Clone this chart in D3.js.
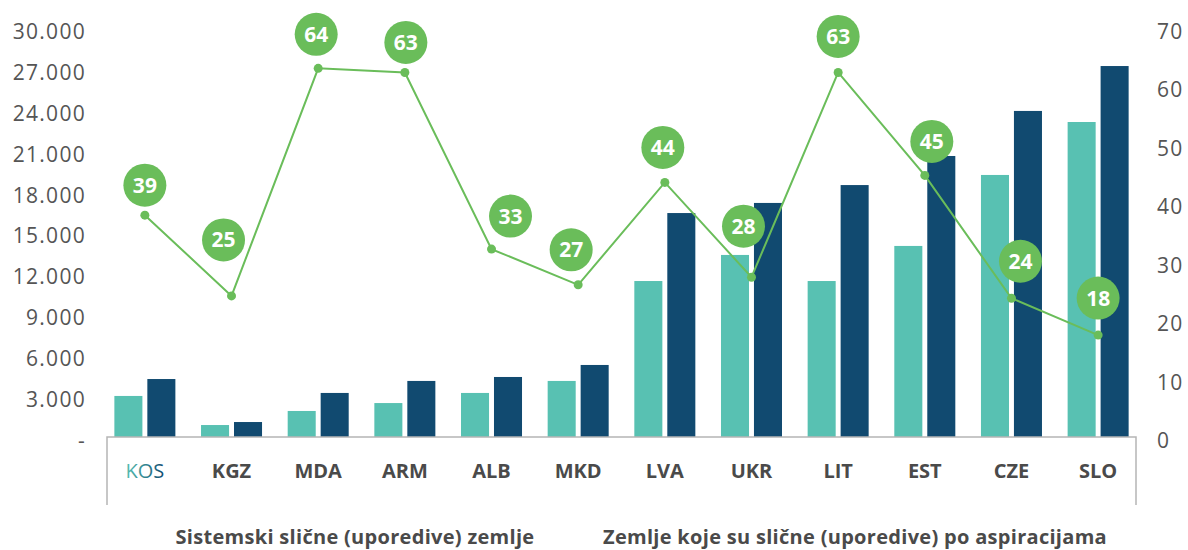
<!DOCTYPE html>
<html>
<head>
<meta charset="utf-8">
<script src="https://cdn.jsdelivr.net/npm/d3@7"></script>
<style>
  body { margin: 0; background: #fff; }
  svg { display: block; font-family: "Open Sans", sans-serif; }
</style>
</head>
<body>
<div id="chart"></div>
<script>
const width = 1188;
const height = 550;

// Data
const countries = ["KOS", "KGZ", "MDA", "ARM", "ALB", "MKD", "LVA", "UKR", "LIT", "EST", "CZE", "SLO"];
const seriesA = [3300, 1170, 2200, 2780, 3520, 4400, 11720, 13630, 11720, 14290, 19490, 23370];
const seriesB = [4540, 1390, 3520, 4400, 4690, 5570, 16700, 17440, 18750, 20880, 24180, 27470];
const lineValues = [38.6, 24.8, 63.7, 63.0, 32.8, 26.7, 44.2, 28.0, 63.0, 45.4, 24.4, 18.1];
const leftTicks = [0, 3000, 6000, 9000, 12000, 15000, 18000, 21000, 24000, 27000, 30000];
const rightTicks = [0, 10, 20, 30, 40, 50, 60, 70];
const groupLabels = ["Sistemski slične (uporedive) zemlje", "Zemlje koje su slične (uporedive) po aspiracijama"];

// where each value bubble sits relative to its point (layout only)
const bubbleOffsets = [[0, -30], [-8, -56], [-2, -34], [1, -30], [19, -33], [-7, -35],
                       [-2, -35], [-8, -51], [0, -36], [7, -34], [9, -37], [0, -37]];

const teal = "#58c1b2";
const navy = "#114a70";
const green = "#6abd5a";
const textGrey = "#555555";

const svg = d3.select("#chart").append("svg")
    .attr("width", width)
    .attr("height", height);

const defs = svg.append("defs");
const grad = defs.append("linearGradient").attr("id", "kosGrad");
grad.append("stop").attr("offset", "0%").attr("stop-color", teal);
grad.append("stop").attr("offset", "100%").attr("stop-color", navy);

// --- Scales ---
const x0 = d3.scaleBand()
    .domain(countries)
    .range([107, 1136])
    .paddingInner(0.296)
    .paddingOuter(0.085);

const x1 = d3.scaleBand()
    .domain(["a", "b"])
    .range([0, x0.bandwidth()])
    .paddingInner(0.15);

const y = d3.scaleLinear().domain([0, 30000]).range([441, 31.5]);
const y2 = d3.scaleLinear().domain([0, 70]).range([441, 31.5]);

const locale = d3.formatLocale({ decimal: ",", thousands: ".", grouping: [3], currency: ["", ""] });
const fmt = locale.format(",");

// --- Axes (labels only) ---
svg.append("g")
    .attr("transform", "translate(89,0)")
    .call(d3.axisLeft(y).tickValues(leftTicks).tickSize(0).tickPadding(3)
        .tickFormat(d => d === 0 ? "-" : fmt(d)));

svg.append("g")
    .attr("transform", "translate(1154,0)")
    .call(d3.axisRight(y2).tickValues(rightTicks).tickSize(0).tickPadding(3));

svg.selectAll(".domain").remove();
svg.selectAll(".tick text")
    .attr("font-size", "21px")
    .attr("font-family", "'Open Sans', sans-serif")
    .attr("letter-spacing", "1.3px")
    .attr("fill", textGrey);

// --- Bars ---
const groups = svg.append("g")
    .selectAll("g")
    .data(countries)
    .join("g")
    .attr("transform", d => `translate(${x0(d)},0)`);

groups.append("rect")
    .attr("x", x1("a"))
    .attr("width", x1.bandwidth())
    .attr("y", (d, i) => y(seriesA[i]))
    .attr("height", (d, i) => y(0) - y(seriesA[i]))
    .attr("fill", teal);

groups.append("rect")
    .attr("x", x1("b"))
    .attr("width", x1.bandwidth())
    .attr("y", (d, i) => y(seriesB[i]))
    .attr("height", (d, i) => y(0) - y(seriesB[i]))
    .attr("fill", navy);

// --- Category box ---
const boxTop = 437, boxBottom = 505;
svg.append("rect")
    .attr("x", 107).attr("y", boxTop)
    .attr("width", 1136 - 107).attr("height", boxBottom - boxTop)
    .attr("fill", "#fff");
svg.append("path")
    .attr("d", `M107,${boxBottom}V${boxTop}H1136V${boxBottom}`)
    .attr("fill", "none")
    .attr("stroke", "#b5b5b5")
    .attr("stroke-width", 1.5);

svg.append("g")
    .selectAll("text")
    .data(countries)
    .join("text")
    .attr("x", d => x0(d) + x0.bandwidth() / 2)
    .attr("y", 471)
    .attr("dy", "0.35em")
    .attr("text-anchor", "middle")
    .attr("font-size", "20px")
    .attr("font-weight", (d, i) => i === 0 ? 400 : 700)
    .attr("fill", (d, i) => i === 0 ? "url(#kosGrad)" : "#4a4a4a")
    .text(d => d);

// --- Group labels ---
svg.append("g")
    .selectAll("text")
    .data(groupLabels)
    .join("text")
    .attr("x", (d, i) => i === 0 ? 355 : 855)
    .attr("y", 537)
    .attr("dy", "0.35em")
    .attr("text-anchor", "middle")
    .attr("font-size", "20px")
    .attr("letter-spacing", "0.3px")
    .attr("font-weight", 700)
    .attr("fill", "#4a4a4a")
    .text(d => d);

// --- Line ---
const cx = d => x0(d) + x0.bandwidth() / 2;
const line = d3.line()
    .x((d, i) => cx(countries[i]))
    .y(d => y2(d));

svg.append("path")
    .datum(lineValues)
    .attr("d", line)
    .attr("fill", "none")
    .attr("stroke", green)
    .attr("stroke-width", 2);

svg.append("g")
    .selectAll("circle")
    .data(lineValues)
    .join("circle")
    .attr("cx", (d, i) => cx(countries[i]))
    .attr("cy", d => y2(d))
    .attr("r", 4.5)
    .attr("fill", green);

const bubbles = svg.append("g")
    .selectAll("g")
    .data(lineValues)
    .join("g")
    .attr("transform", (d, i) =>
        `translate(${cx(countries[i]) + bubbleOffsets[i][0]},${y2(d) + bubbleOffsets[i][1]})`);

bubbles.append("circle")
    .attr("r", 21.5)
    .attr("fill", green);

bubbles.append("text")
    .attr("text-anchor", "middle")
    .attr("dy", "0.36em")
    .attr("font-size", "21px")
    .attr("font-weight", 700)
    .attr("fill", "#fff")
    .text(d => Math.round(d));
</script>
</body>
</html>
